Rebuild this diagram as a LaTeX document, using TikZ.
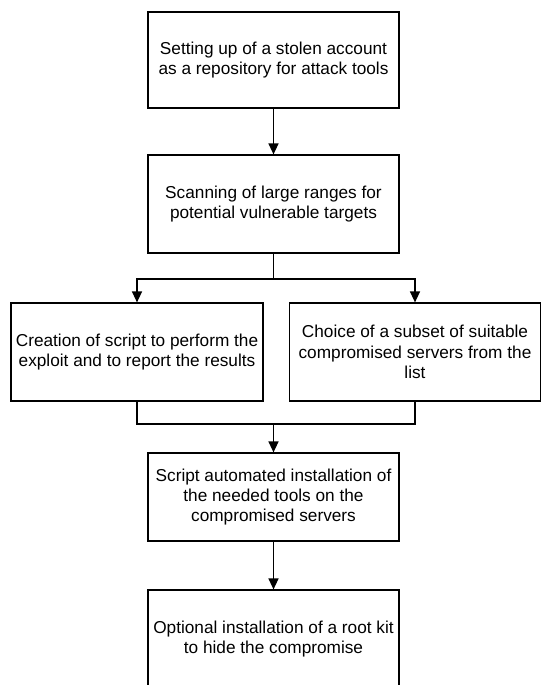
\documentclass[tikz,border=0pt]{standalone}
\usepackage{fontspec}
\setmainfont{Liberation Sans}
\usetikzlibrary{arrows.meta}
\begin{document}
\begin{tikzpicture}[x=1bp,y=-1bp,
  box/.style={draw, line width=1.2bp, minimum width=251bp, align=center, inner sep=0pt,
    font=\fontsize{17.3}{20.5}\selectfont},
  conn/.style={line width=1.4bp},
  arr/.style={conn, -{Triangle[width=10bp,length=11bp]}}]
\path[use as bounding box] (0,0) rectangle (541,685);
\clip (0,0) rectangle (541,685);
\node[box, minimum height=96bp] (b1) at (273.5,60) {Setting up of a stolen account\\as a repository for attack tools};
\node[box, minimum height=98bp] (b2) at (273.5,204) {Scanning of large ranges for\\potential vulnerable targets};
\node[box, minimum width=252bp, minimum height=98bp] (b3) at (137,352) {Creation of script to perform the\\exploit and to report the results};
\node[box, minimum height=98bp] (b4) at (415,352) {Choice of a subset of suitable\\compromised servers from the\\list};
\node[box, minimum height=88bp] (b5) at (273.5,497) {Script automated installation of\\the needed tools on the\\compromised servers};
\node[box, minimum height=98bp] (b6) at (273.5,639) {Optional installation of a root kit\\to hide the compromise};
\coordinate (s1) at (273.5,279);
\coordinate (s2) at (273.5,424);
\draw[arr] (b1.south) -- (b2.north);
\draw[conn] (b2.south) -- (s1);
\draw[arr] (s1) -| (b3.north);
\draw[arr] (s1) -| (b4.north);
\draw[conn] (b3.south) |- (s2);
\draw[conn] (b4.south) |- (s2);
\draw[arr] (s2) -- (b5.north);
\draw[arr] (b5.south) -- (b6.north);
\end{tikzpicture}
\end{document}
